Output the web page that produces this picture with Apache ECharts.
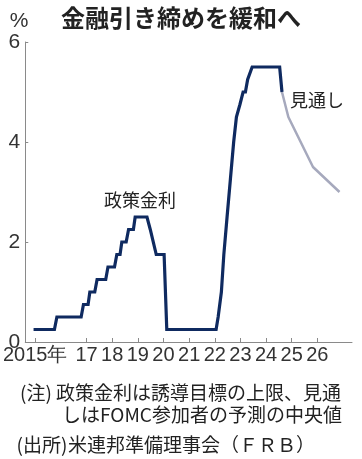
<!DOCTYPE html>
<html>
<head>
<meta charset="utf-8">
<script src="https://cdn.jsdelivr.net/npm/echarts@6/dist/echarts.min.js"></script>
<style>
html,body{margin:0;padding:0;background:#fff;}
#chart{width:362px;height:459px;}
</style>
</head>
<body>
<div id="chart"></div>
<script>
// ---- data ----
const policyDates = ['2014-12-08','2015-10-01','2015-11-05','2016-10-16','2016-11-18','2017-01-23','2017-02-17','2017-04-28','2017-05-31','2017-10-01','2017-11-02','2018-02-03','2018-03-08','2018-04-23','2018-05-18','2018-07-19','2018-08-22','2018-10-30','2018-11-24','2019-05-11','2019-06-27','2019-07-15','2019-09-20','2020-01-10','2020-02-17','2022-01-20','2022-02-18','2022-03-08','2022-04-05','2022-05-10','2022-06-25','2022-07-18','2022-08-11','2022-08-25','2022-09-27','2022-11-05','2022-11-24','2022-12-25','2023-02-08','2023-03-13','2023-04-14','2023-05-12','2023-06-17','2024-07-13','2024-08-15'];
const policyRates = [0.25,0.25,0.5,0.5,0.75,0.75,1.0,1.0,1.25,1.25,1.5,1.5,1.75,1.75,2.0,2.0,2.25,2.25,2.5,2.5,2.25,2.25,1.75,1.75,0.25,0.25,0.5,0.5,1.0,1.75,2.5,2.5,3.25,3.25,4.0,4.5,4.5,4.75,5.0,5.0,5.25,5.25,5.5,5.5,5.0];
const outlookDates = ['2024-08-15','2024-11-14','2025-10-31','2026-11-12'];
const outlookRates = [5.0,4.5,3.5,3.0];
const tickYears = [2015,2017,2018,2019,2020,2021,2022,2023,2024,2025,2026];
const yTicks = [0,2,4,6];
const axisStart = '2014-08-12';
const axisEnd = '2027-05-09';
const titleText = '金融引き締めを緩和へ';
const unitText = '%';
const policyLabel = '政策金利';
const outlookLabel = '見通し';
const noteLines = ['(注)', '政策金利は誘導目標の上限、見通', 'しはFOMC参加者の予測の中央値', '(出所)', '米連邦準備理事会（ＦＲＢ）'];

// ---- helpers: date string -> fractional year ----
function fy(s){
  const p = s.split('-').map(Number);
  const start = Date.UTC(p[0],0,1), end = Date.UTC(p[0]+1,0,1);
  return p[0] + (Date.UTC(p[0],p[1]-1,p[2]) - start) / (end - start);
}
const policyData = policyDates.map((d,i)=>[fy(d), policyRates[i]]);
const outlookData = outlookDates.map((d,i)=>[fy(d), outlookRates[i]]);

const numFont = '"Liberation Sans Narrow", "Liberation Sans", sans-serif';
const jpFont = '"Noto Sans CJK JP", "Noto Sans", sans-serif';
const txt = '#222';

const chart = echarts.init(document.getElementById('chart'), null, {renderer:'canvas'});
chart.setOption({
  animation: false,
  backgroundColor: '#fff',
  grid: {left: 25, right: 10, top: 42, bottom: 117, containLabel: false},
  xAxis: {
    type: 'value',
    min: fy(axisStart),
    max: fy(axisEnd),
    axisLine: {show: true, lineStyle: {color: '#8a8a8a', width: 1}},
    axisTick: {show: true, inside: true, length: 4, customValues: tickYears, lineStyle: {color: '#8a8a8a'}},
    splitLine: {show: false},
    axisLabel: {
      customValues: tickYears,
      hideOverlap: false,
      margin: 3,
      color: '#333',
      fontFamily: numFont,
      fontSize: 20,
      formatter: function(v){
        const y = Math.round(v);
        return y === tickYears[0] ? y + '年' : String(y).slice(2);
      }
    }
  },
  yAxis: {
    type: 'value',
    min: 0, max: 6, interval: 2,
    axisLine: {show: true, lineStyle: {color: '#8a8a8a', width: 1}},
    axisTick: {show: true, inside: true, length: 3, lineStyle: {color: '#8a8a8a'}},
    splitLine: {show: false},
    axisLabel: {margin: 5, color: '#333', fontFamily: numFont, fontSize: 21,
      formatter: function(v){ return yTicks.indexOf(v) >= 0 ? String(v) : ''; }}
  },
  series: [
    {type: 'line', data: policyData, showSymbol: false, symbol: 'none', silent: true,
     lineStyle: {color: '#0f2a60', width: 3.2, join: 'miter'}, z: 3},
    {type: 'line', data: outlookData, showSymbol: false, symbol: 'none', silent: true,
     lineStyle: {color: '#a6a9bd', width: 2.5}, z: 2}
  ],
  graphic: [
    {type: 'text', left: 'center', top: 6, style: {text: titleText, font: 'bold 24px ' + jpFont, fill: txt}},
    {type: 'text', x: 19, y: 21, style: {text: unitText, font: '21px ' + numFont, fill: '#333', align: 'center', verticalAlign: 'middle'}},
    {type: 'text', x: 140, y: 200, style: {text: policyLabel, font: '18px ' + jpFont, fill: txt, align: 'center', verticalAlign: 'middle'}},
    {type: 'text', x: 290, y: 100, style: {text: outlookLabel, font: '18px ' + jpFont, fill: txt, align: 'left', verticalAlign: 'middle'}},
    {type: 'text', x: 36, y: 393, style: {text: noteLines[0], font: '19px ' + jpFont, fill: txt, align: 'center', verticalAlign: 'middle'}},
    {type: 'text', x: 56, y: 393, style: {text: noteLines[1], font: '19px ' + jpFont, fill: txt, verticalAlign: 'middle'}},
    {type: 'text', x: 62, y: 415, style: {text: noteLines[2], font: '19px ' + jpFont, fill: txt, verticalAlign: 'middle'}},
    {type: 'text', x: 42, y: 445, style: {text: noteLines[3], font: '19px ' + jpFont, fill: txt, align: 'center', verticalAlign: 'middle'}},
    {type: 'text', x: 68, y: 445, style: {text: noteLines[4], font: '19px ' + jpFont, fill: txt, verticalAlign: 'middle'}}
  ]
});
</script>
</body>
</html>
